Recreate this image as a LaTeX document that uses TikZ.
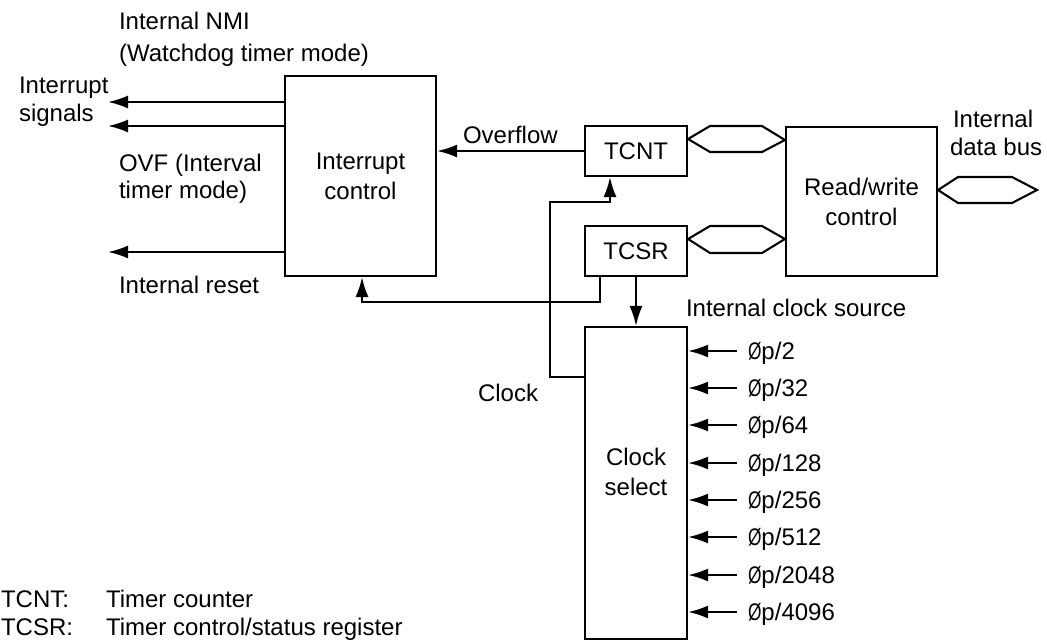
\documentclass[tikz,border=0pt]{standalone}
\usepackage{fontspec}
\setmainfont{Liberation Sans}
\usetikzlibrary{arrows.meta}
\newcommand{\phip}{\scalebox{0.72}[1]{Ø}p}
\begin{document}
\begin{tikzpicture}[x=1pt,y=-1pt,line width=2.1pt,
  box/.style={draw,line width=2.1pt,inner sep=0pt,align=center,font=\fontsize{24}{30}\selectfont},
  lbl/.style={inner sep=0pt,anchor=base west,font=\fontsize{24}{28}\selectfont},
  arr/.style={-{Latex[length=20pt,width=13pt]}},
  bus/.style={draw,line width=2.1pt,line join=miter}]
\useasboundingbox (0,0) rectangle (1047,643);
% blocks
\node[box,minimum width=151pt,minimum height=200pt] (ic) at (360.5,176) {Interrupt\\control};
\node[box,minimum width=102pt,minimum height=50pt] (tcnt) at (636,151) {TCNT};
\node[box,minimum width=102pt,minimum height=50pt] (tcsr) at (636,251) {TCSR};
\node[box,minimum width=151pt,minimum height=149pt] (rw) at (861.5,201.5) {Read/write\\control};
\node[box,minimum width=102pt,minimum height=312pt] (cs) at (636,483) {Clock\\select\\[-8pt]\mbox{}};
% buses
\draw[bus] (tcnt.east |- 0,139) -- (710,126) -- (762,126) -- (rw.west |- 0,140) -- (762,152) -- (710,152) -- cycle;
\draw[bus] (tcsr.east |- 0,239) -- (710,226) -- (762,226) -- (rw.west |- 0,239) -- (762,253) -- (710,253) -- cycle;
\draw[bus] (rw.east |- 0,190) -- (958,177) -- (1012,177) -- (1037,190) -- (1012,203) -- (958,203) -- cycle;
% interrupt outputs
\coordinate (is1) at (108,102);
\coordinate (is2) at (108,126);
\coordinate (ir) at (108,252);
\draw[arr] (ic.west |- is1) -- (is1);
\draw[arr] (ic.west |- is2) -- (is2);
\draw[arr] (ic.west |- ir) -- (ir);
% overflow
\draw[arr] (tcnt.west) -- (tcnt.west -| ic.east);
% clock
\draw[arr] (cs.west |- 0,377) -- (550,377) -- (550,202) -- (610,202) -- (tcnt.south -| 610,0);
% tcsr feedback
\draw[arr] (tcsr.south -| 600,0) -- (600,302) -- (362,302) -- (ic.south -| 362,0);
% tcsr to clock select
\draw[arr] (tcsr.south) -- (cs.north);
% clock inputs
\foreach \yy/\t [count=\i] in {351/2,388/32,425/64,463/128,500/256,537/512,575/2048,612/4096}{
  \coordinate (src\i) at (737,\yy);
  \draw[arr] (src\i) -- (cs.east |- src\i);
  \node[lbl] (lab\i) at (747,\yy+8) {\phip/\t};
}
% labels
\node[lbl] (t1) at (118,29) {Internal NMI};
\node[lbl] (t2) at (118,61) {(Watchdog timer mode)};
\node[lbl] (t3) at (18,93) {Interrupt};
\node[lbl] (t4) at (18,121) {signals};
\node[lbl] (t5) at (118,171) {OVF (Interval};
\node[lbl] (t6) at (118,198) {timer mode)};
\node[lbl] (t7) at (118,293) {Internal reset};
\node[lbl] (t8) at (462,143) {Overflow};
\node[lbl] (t9) at (685,316) {Internal clock source};
\node[lbl] (t10) at (477,401) {Clock};
\node[lbl] (t11) at (952,127) {Internal};
\node[lbl] (t12) at (949,155) {data bus};
\node[lbl] (t13) at (0,607) {TCNT:};
\node[lbl] (t14) at (105,607) {Timer counter};
\node[lbl] (t15) at (0,635) {TCSR:};
\node[lbl] (t16) at (105,635) {Timer control/status register};
\end{tikzpicture}
\end{document}
